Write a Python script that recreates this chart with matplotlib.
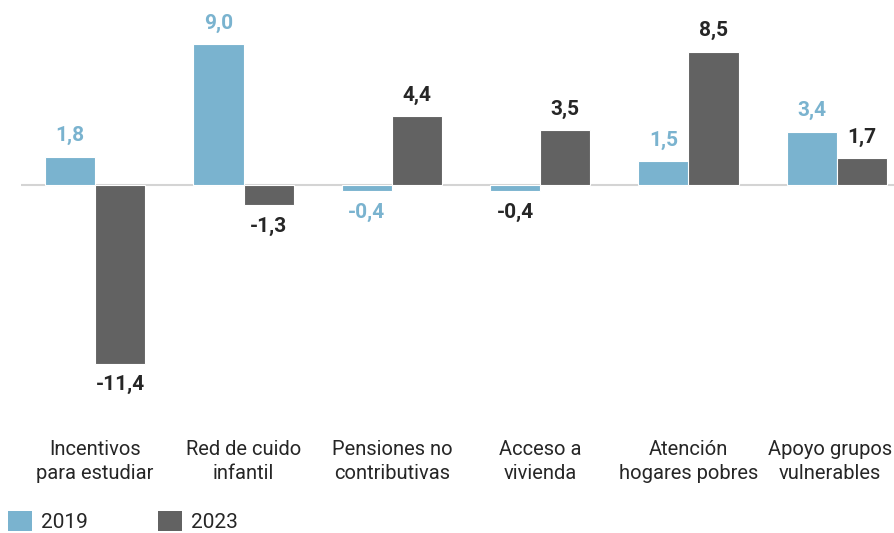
import matplotlib
matplotlib.use("Agg")
import matplotlib.pyplot as plt
from matplotlib.patches import Patch
import matplotlib.transforms as mtransforms
import numpy as np
from matplotlib import font_manager

categories = ["Incentivos\npara estudiar", "Red de cuido\ninfantil", "Pensiones no\ncontributivas",
              "Acceso a\nvivienda", "Atención\nhogares pobres", "Apoyo grupos\nvulnerables"]
series_names = ["2019", "2023"]
values_2019 = [1.8, 9.0, -0.4, -0.4, 1.5, 3.4]
values_2023 = [-11.4, -1.3, 4.4, 3.5, 8.5, 1.7]

names = {f.name for f in font_manager.fontManager.ttflist}
fam = "Liberation Sans Narrow" if "Liberation Sans Narrow" in names else "Roboto"
plt.rcParams['font.family'] = [fam, 'DejaVu Sans']

c2019 = "#7ab3cf"
c2023 = "#626262"
dark = "#262626"

W, H = 894, 533
fig = plt.figure(figsize=(W / 100, H / 100), dpi=100)
ppu = 15.67
ymax, ymin = 11.8, -15.6
ax_h = (ymax - ymin) * ppu
left_px, right_px = 21, 911
ax = fig.add_axes([left_px / W, (H - ax_h) / H, (right_px - left_px) / W, ax_h / H])
ax.set_ylim(ymin, ymax)
n = len(categories)
ax.set_xlim(-0.5, n - 0.5)

x = np.arange(n)
bw = 0.338
ax.bar(x - bw / 2, values_2019, bw, color=c2019, edgecolor="white", linewidth=0.8, zorder=2)
ax.bar(x + bw / 2, values_2023, bw, color=c2023, edgecolor="white", linewidth=0.8, zorder=2)
ax.axhline(0, color="#d4d4d4", linewidth=1.5, zorder=1)

for s in ax.spines.values():
    s.set_visible(False)
ax.set_yticks([])
ax.set_xticks(x)
ax.set_xticklabels(categories, fontsize=14.5, color=dark, linespacing=1.3)
ax.tick_params(axis="x", length=0, pad=8)
# keep the last (edge) label inside the figure
last = ax.get_xticklabels()[-1]
last.set_transform(last.get_transform() + mtransforms.ScaledTranslation(-5 / 72, 0, fig.dpi_scale_trans))

def fmt(v):
    return f"{v:.1f}".replace(".", ",")

label_colors_2019 = [c2019, c2019, c2019, dark, c2019, c2019]
for i, v in enumerate(values_2019):
    off = 15 if v >= 0 else -15
    ax.annotate(fmt(v), (x[i] - bw / 2, v), xytext=(0, off), textcoords="offset points",
                ha="center", va="center", fontsize=15, fontweight="bold", color=label_colors_2019[i])
for i, v in enumerate(values_2023):
    off = 15 if v >= 0 else -15
    ax.annotate(fmt(v), (x[i] + bw / 2, v), xytext=(0, off), textcoords="offset points",
                ha="center", va="center", fontsize=15, fontweight="bold", color=dark)

handles = [Patch(facecolor=c2019, edgecolor="none"), Patch(facecolor=c2023, edgecolor="none")]
fig.legend(handles, series_names, loc="lower left", bbox_to_anchor=(7 / W, 0.0),
           ncol=2, frameon=False, fontsize=15, handlelength=1.15, handleheight=1.15,
           handletextpad=0.45, columnspacing=3.35, borderpad=0, borderaxespad=0.05,
           labelcolor=dark)

fig.savefig("out.png", dpi=100)
